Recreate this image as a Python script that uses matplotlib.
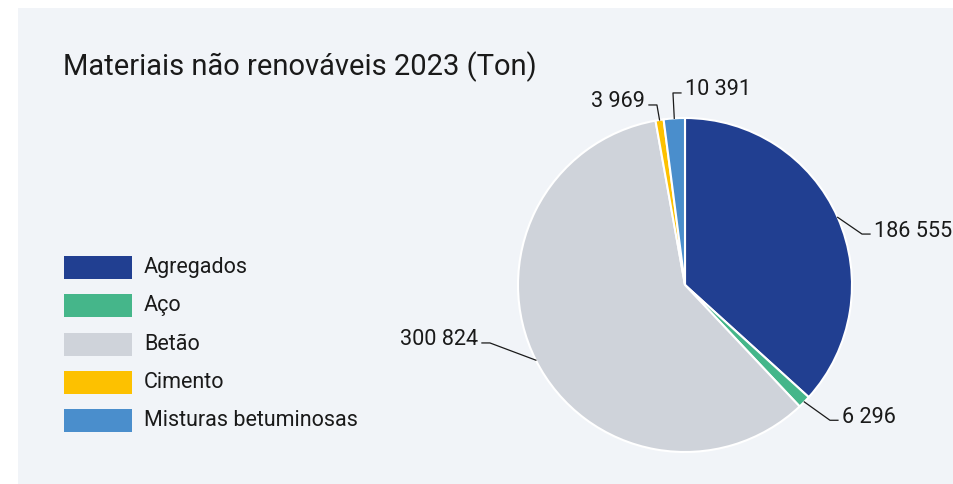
import numpy as np
import matplotlib
matplotlib.use('Agg')
import matplotlib.pyplot as plt
from matplotlib.patches import Rectangle

plt.rcParams['font.family'] = ['Roboto', 'DejaVu Sans']

categories = ['Agregados', 'Aço', 'Betão', 'Cimento', 'Misturas betuminosas']
values = [186555, 6296, 300824, 3969, 10391]
colors = ['#213f91', '#45b68a', '#cfd3da', '#fdc100', '#4a8ecc']
title = 'Materiais não renováveis 2023 (Ton)'

# leader elbow (data units, radius = 1) and horizontal direction per label
elbows = [(1.06, 0.305), (0.868, -0.81), (-1.168, -0.347), (-0.168, 1.078), (-0.072, 1.15)]
hdirs = [1, 1, -1, -1, 1]

W, H = 954, 484
fig = plt.figure(figsize=(W / 100, H / 100), dpi=100)
fig.patch.set_facecolor('white')
fig.add_artist(Rectangle((18 / W, 0), 1, 1 - 8 / H, transform=fig.transFigure,
                         facecolor='#f1f4f8', edgecolor='none', zorder=0))

fig.text(63 / W, 1 - 75 / H, title, fontsize=21, color='#1a1a1a', va='baseline', ha='left')

# pie
cx, cy, r = 685, 285, 167
ax = fig.add_axes([(cx - r) / W, (H - cy - r) / H, 2 * r / W, 2 * r / H])
wedges, _ = ax.pie(values, colors=colors, startangle=90, counterclock=False, radius=1,
                   wedgeprops=dict(edgecolor='white', linewidth=1.5))
ax.set_xlim(-1, 1)
ax.set_ylim(-1, 1)
ax.axis('off')

def fmt(v):
    return f'{v:,}'.replace(',', ' ')

seg = 8 / r
for w, v, (ex, ey), d in zip(wedges, values, elbows, hdirs):
    mid = np.deg2rad((w.theta1 + w.theta2) / 2)
    px, py = np.cos(mid), np.sin(mid)
    ax.plot([px, ex, ex + d * seg], [py, ey, ey], color='#1a1a1a', lw=0.9, clip_on=False)
    ax.text(ex + d * (seg + 4 / r), ey + 3 / r, fmt(v), fontsize=15.6, color='#1a1a1a',
            ha='left' if d > 0 else 'right', va='center', clip_on=False)

# legend
for i, (name, c) in enumerate(zip(categories, colors)):
    yc = 267.5 + i * 38.25
    fig.add_artist(Rectangle((64 / W, 1 - (yc + 11.5) / H), 68 / W, 23 / H,
                             transform=fig.transFigure, facecolor=c, edgecolor='none'))
    fig.text(144 / W, 1 - yc / H, name, fontsize=15.5, color='#1a1a1a', va='center', ha='left')

fig.savefig('out.png', dpi=100, facecolor=fig.get_facecolor())
